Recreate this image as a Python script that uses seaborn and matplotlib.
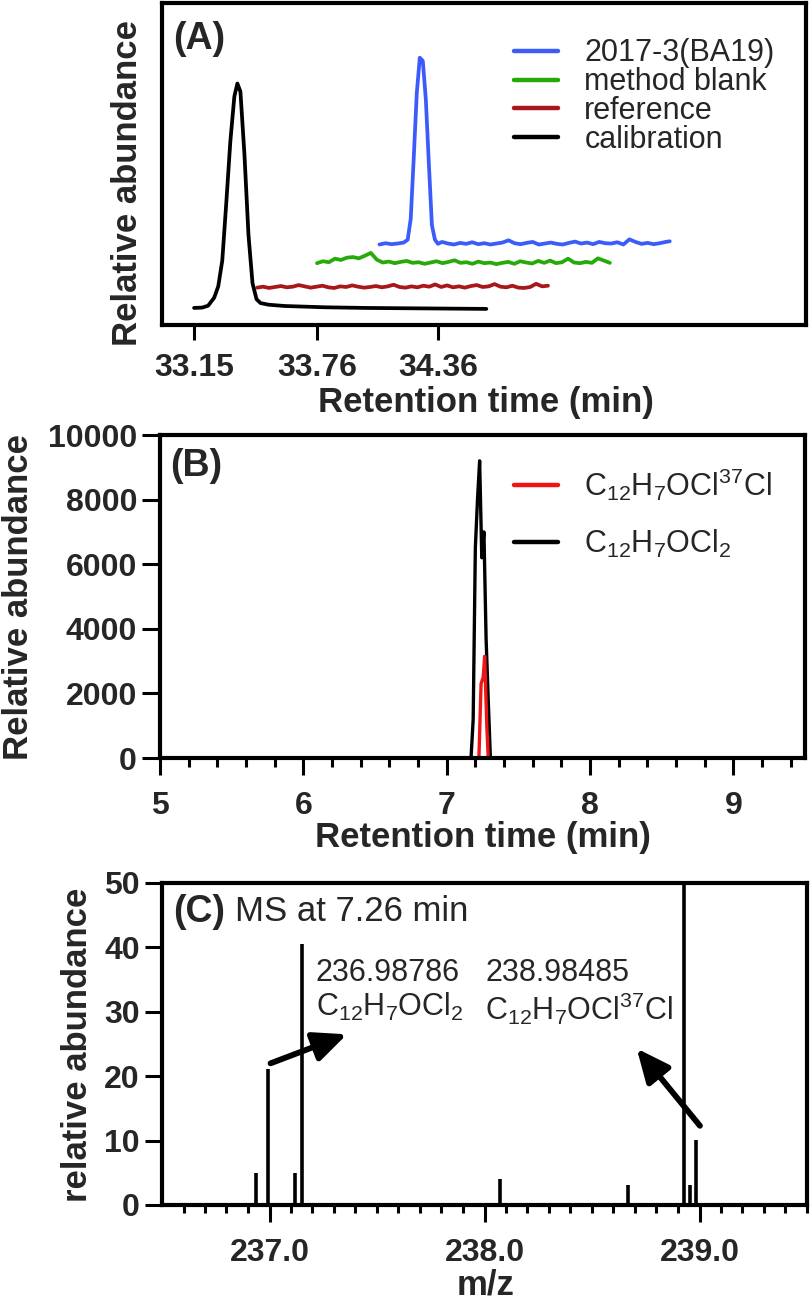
import numpy as np
import matplotlib
matplotlib.use("Agg")
import matplotlib.pyplot as plt
import seaborn as sns


# -----------------------------
# DATA
# -----------------------------
# Panel A: stacked chromatograms (retention time in min, arbitrary abundance)
a_ticks = [33.15, 33.76, 34.36]

cal_t = [33.15, 33.19, 33.22, 33.25, 33.27, 33.29, 33.31, 33.33, 33.35, 33.365,
         33.38, 33.40, 33.42, 33.44, 33.46, 33.48, 33.52, 33.60, 33.70, 33.80,
         34.00, 34.20, 34.40, 34.60]
cal_y = [5.3, 5.4, 6.0, 8.5, 12.0, 20.0, 38.0, 57.0, 71.0, 75.0,
         72.5, 53.0, 28.0, 13.0, 8.0, 6.8, 6.3, 5.9, 5.7, 5.5,
         5.3, 5.2, 5.1, 5.0]

ref_span = (33.463, 34.906)
ref_y = [11.6, 11.9, 11.5, 11.8, 12.1, 11.7, 11.9, 12.4, 12.0, 11.6,
         11.9, 12.2, 11.7, 11.5, 12.0, 11.8, 12.3, 11.9, 11.6, 11.8,
         12.1, 11.7, 12.0, 12.5, 11.8, 11.6, 12.0, 11.7, 12.2, 11.9,
         12.6, 11.8, 12.3, 11.7, 12.0, 11.6, 12.1, 12.4, 11.8, 12.0,
         12.7, 11.9, 11.7, 12.2, 11.6, 11.5, 11.8, 12.8, 12.0, 12.2]

blank_span = (33.760, 35.213)
blank_y = [19.2, 19.8, 19.5, 20.6, 20.2, 20.9, 21.1, 20.7, 21.5, 22.4,
           20.3, 19.4, 19.7, 19.2, 19.6, 19.9, 19.3, 19.5, 19.0, 19.4,
           19.8, 19.2, 19.6, 20.1, 19.3, 19.5, 19.0, 19.7, 19.2, 19.4,
           18.9, 19.3, 19.6, 19.0, 19.8, 19.4, 19.1, 19.9, 19.3, 20.0,
           19.2, 19.5, 20.6, 19.4, 19.2, 19.6, 19.3, 20.7, 20.0, 19.3]

sample_t = [34.07, 34.10, 34.13, 34.16, 34.19, 34.21, 34.225, 34.24, 34.255, 34.27,
            34.285, 34.30, 34.315, 34.33, 34.345, 34.36, 34.38, 34.41, 34.44, 34.47,
            34.50, 34.53, 34.56, 34.59, 34.62, 34.65, 34.68, 34.71, 34.74, 34.77,
            34.80, 34.83, 34.86, 34.89, 34.92, 34.95, 34.98, 35.01, 35.04, 35.07,
            35.10, 35.13, 35.16, 35.19, 35.22, 35.25, 35.28, 35.31, 35.34, 35.37,
            35.40, 35.43, 35.46, 35.49, 35.51]
sample_y = [25.0, 25.4, 25.1, 25.3, 25.6, 26.5, 33.0, 52.0, 72.0, 83.0,
            82.0, 70.0, 50.0, 31.0, 26.5, 25.2, 25.8, 25.3, 25.0, 25.5,
            25.2, 25.7, 25.1, 25.4, 25.0, 25.3, 25.6, 26.3, 25.4, 25.1,
            25.5, 25.8, 25.0, 25.3, 25.6, 25.2, 25.0, 25.5, 25.9, 25.3,
            25.6, 25.1, 25.8, 25.4, 25.3, 25.7, 25.0, 26.6, 25.8, 25.2,
            25.5, 25.1, 25.4, 25.8, 26.0]

a_labels = ["2017-3(BA19)", "method blank", "reference", "calibration"]

# Panel B: extracted ion chromatograms
b_ticks = [5, 6, 7, 8, 9]
b_yticks = [0, 2000, 4000, 6000, 8000, 10000]
eic_237_t = [5.0, 7.17, 7.185, 7.20, 7.215, 7.23, 7.245, 7.26, 7.275, 7.29, 7.305, 9.5]
eic_237_y = [0, 0, 1200, 6500, 8000, 9200, 6200, 7000, 3700, 1800, 0, 0]
eic_239_t = [5.0, 7.225, 7.24, 7.255, 7.265, 7.28, 7.29, 9.5]
eic_239_y = [0, 0, 2300, 2500, 3150, 1000, 0, 0]
b_labels = [r"C$_{12}$H$_{7}$OCl$^{37}$Cl", r"C$_{12}$H$_{7}$OCl$_{2}$"]

# Panel C: mass spectrum at 7.26 min
c_ticks = [237.0, 238.0, 239.0]
c_yticks = [0, 10, 20, 30, 40, 50]
ms_mz = [236.937, 236.993, 237.117, 237.153, 238.073, 238.669, 238.930, 238.954, 238.986]
ms_int = [5.0, 21.1, 5.0, 40.6, 4.0, 3.1, 100.0, 3.1, 10.1]


# -----------------------------
# STYLE
# -----------------------------
sns.set_theme(style="ticks")
plt.rcParams["font.family"] = ["Liberation Sans", "DejaVu Sans"]
plt.rcParams["mathtext.fontset"] = "custom"
plt.rcParams["mathtext.rm"] = "Liberation Sans"
plt.rcParams["mathtext.it"] = "Liberation Sans:italic"
plt.rcParams["mathtext.bf"] = "Liberation Sans:bold"

W, H = 810, 1299
fig = plt.figure(figsize=(W / 100, H / 100), dpi=100)


def px_axes(l, t, r, b):
    return fig.add_axes([l / W, 1 - b / H, (r - l) / W, (b - t) / H])


def frame(ax):
    for s in ax.spines.values():
        s.set_visible(True)
        s.set_linewidth(3)
        s.set_color("black")
    ax.grid(False)


def bold_ticks(ax):
    for lab in ax.get_xticklabels() + ax.get_yticklabels():
        lab.set_fontweight("bold")


axA = px_axes(162, 3, 806, 325)
axB = px_axes(160, 435, 805, 758)
axC = px_axes(162, 883, 807, 1205)

# -----------------------------
# PANEL A
# -----------------------------
ref_t = np.linspace(ref_span[0], ref_span[1], len(ref_y))
blank_t = np.linspace(blank_span[0], blank_span[1], len(blank_y))

traces = [
    (sample_t, sample_y, "#3b5cfb"),
    (blank_t, blank_y, "#26aa0a"),
    (ref_t, ref_y, "#a8171a"),
    (cal_t, cal_y, "black"),
]
for (t, y, c), lab in zip(traces, a_labels):
    sns.lineplot(x=t, y=y, ax=axA, color=c, lw=2.7, label=lab,
                 sort=False, estimator=None)

axA.set_xlim(32.991, 36.186)
axA.set_ylim(0, 100)
axA.set_xticks(a_ticks)
axA.set_xticklabels([f"{v:.2f}" for v in a_ticks])
axA.set_yticks([])
frame(axA)
axA.tick_params(axis="x", direction="out", length=11, width=2.2,
                labelsize=23, pad=9, color="black")
bold_ticks(axA)
axA.set_xlabel("Retention time (min)", fontsize=25, fontweight="bold", va="center")
axA.xaxis.set_label_coords(0.503, -0.242)
axA.set_ylabel("Relative abundance", fontsize=25, fontweight="bold", va="center")
axA.yaxis.set_label_coords(-0.054, 0.441)
axA.text(0.017, 0.888, "(A)", transform=axA.transAxes, fontsize=27,
         fontweight="bold", ha="left", va="center")
legA = axA.legend(loc="upper left", bbox_to_anchor=(0.5466, 0.89), frameon=False,
                  fontsize=22, handlelength=1.45, handletextpad=0.85,
                  labelspacing=-0.04, borderpad=0, borderaxespad=0)
for h in legA.get_lines():
    h.set_linewidth(3.2)

# -----------------------------
# PANEL B
# -----------------------------
sns.lineplot(x=eic_237_t, y=eic_237_y, ax=axB, color="black", lw=2.4,
             label=b_labels[1], sort=False, estimator=None)
sns.lineplot(x=eic_239_t, y=eic_239_y, ax=axB, color="#f01414", lw=2.4,
             label=b_labels[0], sort=False, estimator=None)
axB.set_xlim(5, 9.5)
axB.set_ylim(0, 10000)
axB.set_xticks(b_ticks)
axB.set_xticks(np.arange(5.2, 9.5, 0.2), minor=True)
axB.set_yticks(b_yticks)
frame(axB)
axB.tick_params(axis="x", which="major", direction="out", length=12, width=2.2,
                labelsize=23, pad=12, color="black")
axB.tick_params(axis="x", which="minor", direction="out", length=6.5, width=2.2,
                color="black", bottom=True)
axB.tick_params(axis="y", which="major", direction="out", length=13, width=2.2,
                labelsize=23, pad=3.5, color="black")
bold_ticks(axB)
axB.set_xlabel("Retention time (min)", fontsize=25, fontweight="bold", va="center")
axB.xaxis.set_label_coords(0.501, -0.245)
axB.set_ylabel("Relative abundance", fontsize=25, fontweight="bold", va="center")
axB.yaxis.set_label_coords(-0.220, 0.498)
axB.text(0.0155, 0.904, "(B)", transform=axB.transAxes, fontsize=27,
         fontweight="bold", ha="left", va="center")
hB, lB = axB.get_legend_handles_labels()
legB = axB.legend(hB[::-1], lB[::-1], loc="upper left", bbox_to_anchor=(0.549, 0.903),
                  frameon=False, fontsize=22, handlelength=1.45, handletextpad=0.85,
                  labelspacing=0.83, borderpad=0, borderaxespad=0)
for h in legB.get_lines():
    h.set_linewidth(3.2)

# -----------------------------
# PANEL C
# -----------------------------
axC.vlines(ms_mz, 0, ms_int, color="black", lw=2.6)
axC.set_xlim(236.5, 239.5)
axC.set_ylim(0, 50)
axC.set_xticks(c_ticks)
axC.set_xticklabels([f"{v:.1f}" for v in c_ticks])
axC.set_xticks(np.arange(236.6, 239.55, 0.1), minor=True)
axC.set_yticks(c_yticks)
frame(axC)
axC.tick_params(axis="x", which="major", direction="out", length=12, width=2.2,
                labelsize=23, pad=12, color="black")
axC.tick_params(axis="x", which="minor", direction="out", length=6, width=2.2,
                color="black", bottom=True)
axC.tick_params(axis="y", which="major", direction="out", length=12, width=2.2,
                labelsize=23, pad=4, color="black")
bold_ticks(axC)
axC.set_xlabel("m/z", fontsize=25, fontweight="bold", va="center")
axC.xaxis.set_label_coords(0.5016, -0.248)
axC.set_ylabel("relative abundance", fontsize=25, fontweight="bold", va="center")
axC.yaxis.set_label_coords(-0.1316, 0.498)
axC.text(0.017, 0.91, "(C)", transform=axC.transAxes, fontsize=27,
         fontweight="bold", ha="left", va="center")
axC.text(0.113, 0.91, "MS at 7.26 min", transform=axC.transAxes, fontsize=25,
         ha="left", va="center")
axC.text(0.238, 0.767, "236.98786", transform=axC.transAxes, fontsize=22,
         ha="left", va="top")
axC.text(0.238, 0.665, r"C$_{12}$H$_{7}$OCl$_{2}$", transform=axC.transAxes,
         fontsize=22, ha="left", va="top")
axC.text(0.5008, 0.767, "238.98485", transform=axC.transAxes, fontsize=22,
         ha="left", va="top")
axC.text(0.5008, 0.665, r"C$_{12}$H$_{7}$OCl$^{37}$Cl", transform=axC.transAxes,
         fontsize=22, ha="left", va="top")
arrow = dict(arrowstyle="-|>,head_length=1.0,head_width=0.45", lw=4.2,
             color="black", mutation_scale=20, shrinkA=0, shrinkB=0)
axC.annotate("", xy=(237.36, 26.5), xytext=(237.005, 22.0), arrowprops=arrow)
axC.annotate("", xy=(238.708, 24.3), xytext=(239.002, 12.3), arrowprops=arrow)

fig.savefig("out.png", dpi=100)
